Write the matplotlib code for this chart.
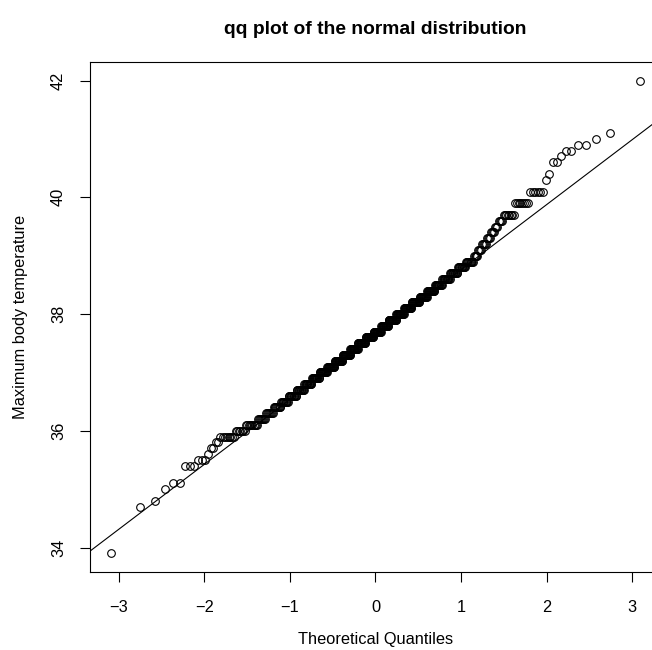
import matplotlib
matplotlib.use("Agg")
import matplotlib.pyplot as plt
import numpy as np
from statistics import NormalDist

temps = [33.9, 34.7, 34.8, 35.0, 35.1, 35.4, 35.5, 35.6, 35.7, 35.8, 35.9,
         36.0, 36.1, 36.2, 36.3, 36.4, 36.5, 36.6, 36.7, 36.8, 36.9,
         37.0, 37.1, 37.2, 37.3, 37.4, 37.5, 37.6, 37.7, 37.8, 37.9,
         38.0, 38.1, 38.2, 38.3, 38.4, 38.5, 38.6, 38.7, 38.8, 38.9,
         39.0, 39.1, 39.2, 39.3, 39.4, 39.5, 39.6, 39.7, 39.9, 40.1,
         40.3, 40.4, 40.6, 40.7, 40.8, 40.9, 41.0, 41.1, 42.0]
counts = [1, 1, 1, 1, 2, 3, 3, 1, 2, 2, 8,
          7, 10, 8, 8, 9, 10, 12, 12, 13, 14,
          15, 15, 17, 17, 17, 18, 18, 18, 17, 18,
          17, 17, 16, 15, 15, 13, 13, 12, 11, 10,
          5, 4, 5, 4, 4, 3, 4, 8, 8, 6,
          1, 1, 2, 1, 2, 2, 1, 1, 1]

x_ticks = [-3, -2, -1, 0, 1, 2, 3]
y_ticks = [34, 36, 38, 40, 42]
title = "qq plot of the normal distribution"
x_label = "Theoretical Quantiles"
y_label = "Maximum body temperature"

plt.rcParams['font.family'] = ['Liberation Sans', 'DejaVu Sans']

sample = np.sort(np.repeat(np.array(temps), counts))
n = len(sample)
a = 3 / 8 if n <= 10 else 0.5
nd = NormalDist()
probs = (np.arange(1, n + 1) - a) / (n + 1 - 2 * a)
theo = np.array([nd.inv_cdf(p) for p in probs])

# qqline through the quartiles
q1, q3 = np.quantile(sample, [0.25, 0.75])
t1, t3 = nd.inv_cdf(0.25), nd.inv_cdf(0.75)
slope = (q3 - q1) / (t3 - t1)
intercept = q1 - slope * t1

W, H = 652, 650
fig = plt.figure(figsize=(W / 100, H / 100), dpi=100)
left, right, top, bottom = 90, 660.9, 61.7, 572.3
ax = fig.add_axes([left / W, (H - bottom) / H, (right - left) / W, (bottom - top) / H])

ax.plot(theo, sample, linestyle='none', marker='o', markersize=5.5,
        markerfacecolor='none', markeredgecolor='black', markeredgewidth=0.8)
ax.axline((0, intercept), slope=slope, color='black', linewidth=0.8)

def expand(lo, hi):
    r = hi - lo
    return lo - 0.04 * r, hi + 0.04 * r

ax.set_xlim(*expand(theo.min(), theo.max()))
ax.set_ylim(*expand(sample.min(), sample.max()))

ax.set_xticks(x_ticks)
ax.set_yticks(y_ticks)
ax.set_xticklabels([f"{v}".replace('-', '\u2212') for v in x_ticks])
ax.set_yticklabels([str(v) for v in y_ticks], rotation=90, va='center')
ax.tick_params(axis='both', direction='out', length=7.2, width=0.8,
               labelsize=11.8, colors='black')
ax.tick_params(axis='x', pad=13)
ax.tick_params(axis='y', pad=10)
for s in ax.spines.values():
    s.set_linewidth(0.8)
    s.set_color('black')

fig.text(375.4 / W, (H - 639.6) / H, x_label, ha='center', va='center', fontsize=11.8)
fig.text(21 / W, (H - 317) / H, y_label, ha='center', va='center', fontsize=11.8,
         rotation=90)
fig.text(375.4 / W, (H - 34) / H, title, ha='center', va='baseline',
         fontsize=13.9, fontweight='bold')

fig.savefig("out.png", dpi=100)
